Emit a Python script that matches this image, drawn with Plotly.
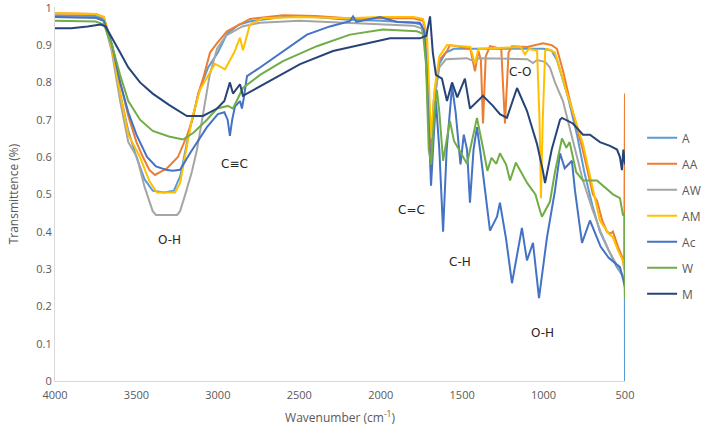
import plotly.graph_objects as go

# ---- data (wavenumber cm-1, transmittance) ----
A_x = [4000, 3750, 3700, 3650, 3600, 3550, 3500, 3450, 3400, 3330, 3270, 3230, 3180, 3120, 3060, 3000, 2944, 2870, 2800, 2600, 2400, 2200, 2000, 1800, 1750, 1720, 1700, 1690, 1670, 1640, 1600, 1550, 1000, 950, 918, 850, 795, 750, 700, 654, 600, 550, 510, 501, 500]
A_y = [0.98, 0.978, 0.97, 0.89, 0.77, 0.67, 0.60, 0.54, 0.51, 0.505, 0.51, 0.55, 0.66, 0.77, 0.84, 0.88, 0.93, 0.955, 0.964, 0.975, 0.975, 0.968, 0.965, 0.96, 0.955, 0.90, 0.65, 0.60, 0.75, 0.85, 0.88, 0.89, 0.89, 0.885, 0.86, 0.76, 0.66, 0.56, 0.47, 0.40, 0.35, 0.305, 0.28, 0.26, 0.0]

AA_x = [4000, 3750, 3700, 3650, 3600, 3550, 3500, 3460, 3420, 3386, 3312, 3245, 3190, 3153, 3120, 3091, 3048, 3005, 2944, 2803, 2600, 2400, 2200, 2000, 1800, 1740, 1720, 1705, 1691, 1675, 1640, 1593, 1575, 1450, 1421, 1400, 1385, 1372, 1355, 1329, 1260, 1237, 1215, 1194, 1100, 1004, 950, 918, 880, 838, 758, 697, 672, 640, 611, 590, 574, 543, 515, 505, 500]
AA_y = [0.985, 0.983, 0.975, 0.90, 0.80, 0.71, 0.64, 0.60, 0.565, 0.552, 0.57, 0.60, 0.657, 0.705, 0.77, 0.81, 0.88, 0.905, 0.937, 0.97, 0.98, 0.978, 0.972, 0.972, 0.972, 0.965, 0.93, 0.75, 0.58, 0.75, 0.86, 0.884, 0.90, 0.89, 0.83, 0.885, 0.86, 0.69, 0.87, 0.897, 0.89, 0.69, 0.88, 0.897, 0.895, 0.905, 0.90, 0.89, 0.83, 0.75, 0.617, 0.50, 0.483, 0.43, 0.40, 0.395, 0.40, 0.36, 0.33, 0.30, 0.77]

AW_x = [4000, 3750, 3700, 3650, 3600, 3550, 3497, 3450, 3400, 3380, 3250, 3232, 3200, 3160, 3128, 3090, 3050, 3005, 2950, 2850, 2741, 2500, 2200, 2000, 1800, 1750, 1725, 1705, 1690, 1670, 1640, 1600, 1470, 1421, 1400, 1100, 1065, 1040, 990, 961, 930, 881, 820, 760, 700, 650, 600, 550, 510, 500]
AW_y = [0.975, 0.973, 0.965, 0.88, 0.75, 0.64, 0.60, 0.52, 0.455, 0.445, 0.445, 0.455, 0.50, 0.56, 0.62, 0.72, 0.82, 0.89, 0.925, 0.95, 0.96, 0.965, 0.96, 0.955, 0.952, 0.945, 0.90, 0.72, 0.65, 0.76, 0.84, 0.862, 0.865, 0.855, 0.865, 0.862, 0.852, 0.86, 0.855, 0.84, 0.80, 0.75, 0.64, 0.54, 0.46, 0.40, 0.35, 0.31, 0.28, 0.27]

AM_x = [4000, 3750, 3700, 3650, 3600, 3550, 3478, 3420, 3374, 3263, 3232, 3200, 3160, 3110, 3060, 3018, 2956, 2900, 2864, 2846, 2803, 2723, 2500, 2200, 2000, 1800, 1740, 1716, 1700, 1688, 1670, 1640, 1593, 1450, 1421, 1400, 1140, 1114, 1090, 1040, 1025, 1016, 1005, 990, 979, 930, 856, 758, 700, 654, 600, 574, 543, 510, 503, 500]
AM_y = [0.985, 0.983, 0.975, 0.89, 0.77, 0.66, 0.60, 0.535, 0.505, 0.505, 0.53, 0.61, 0.70, 0.78, 0.82, 0.85, 0.835, 0.88, 0.92, 0.886, 0.955, 0.972, 0.975, 0.972, 0.975, 0.975, 0.97, 0.93, 0.75, 0.65, 0.78, 0.87, 0.90, 0.895, 0.85, 0.89, 0.895, 0.875, 0.89, 0.885, 0.70, 0.49, 0.70, 0.885, 0.89, 0.88, 0.77, 0.635, 0.52, 0.43, 0.395, 0.385, 0.35, 0.32, 0.30, 0.22]

Ac_x = [4000, 3750, 3700, 3650, 3600, 3550, 3500, 3435, 3380, 3312, 3275, 3232, 3171, 3120, 3067, 3000, 2960, 2940, 2926, 2912, 2895, 2864, 2852, 2840, 2821, 2741, 2600, 2453, 2312, 2189, 2170, 2150, 2004, 1900, 1760, 1735, 1720, 1705, 1691, 1675, 1661, 1640, 1617, 1595, 1562, 1540, 1510, 1490, 1470, 1452, 1430, 1409, 1390, 1329, 1300, 1286, 1268, 1230, 1194, 1133, 1102, 1065, 1028, 979, 930, 899, 870, 826, 807, 764, 715, 650, 600, 531, 510, 500]
Ac_y = [0.975, 0.973, 0.965, 0.90, 0.80, 0.72, 0.66, 0.60, 0.575, 0.565, 0.563, 0.566, 0.61, 0.645, 0.68, 0.715, 0.72, 0.70, 0.657, 0.70, 0.735, 0.75, 0.73, 0.76, 0.817, 0.84, 0.884, 0.928, 0.95, 0.964, 0.977, 0.962, 0.975, 0.962, 0.96, 0.94, 0.85, 0.65, 0.523, 0.65, 0.75, 0.62, 0.40, 0.62, 0.79, 0.72, 0.58, 0.66, 0.62, 0.478, 0.62, 0.68, 0.62, 0.403, 0.43, 0.44, 0.478, 0.38, 0.262, 0.41, 0.323, 0.37, 0.222, 0.385, 0.51, 0.61, 0.57, 0.59, 0.51, 0.37, 0.43, 0.36, 0.33, 0.305, 0.27, 0.25]

W_x = [4000, 3750, 3700, 3650, 3600, 3550, 3478, 3400, 3300, 3214, 3150, 3067, 3005, 2938, 2907, 2846, 2741, 2600, 2392, 2189, 1986, 1777, 1740, 1722, 1705, 1690, 1670, 1655, 1640, 1617, 1575, 1550, 1470, 1409, 1372, 1345, 1320, 1290, 1268, 1230, 1206, 1170, 1100, 1050, 1022, 1010, 961, 930, 887, 860, 840, 800, 758, 672, 574, 531, 512, 503, 500]
W_y = [0.965, 0.963, 0.955, 0.90, 0.82, 0.75, 0.70, 0.67, 0.655, 0.647, 0.665, 0.70, 0.73, 0.737, 0.73, 0.785, 0.82, 0.857, 0.897, 0.928, 0.942, 0.937, 0.93, 0.85, 0.62, 0.58, 0.72, 0.78, 0.72, 0.59, 0.697, 0.643, 0.582, 0.705, 0.625, 0.563, 0.598, 0.582, 0.61, 0.58, 0.537, 0.585, 0.53, 0.50, 0.457, 0.44, 0.48, 0.56, 0.65, 0.625, 0.64, 0.56, 0.537, 0.537, 0.50, 0.49, 0.443, 0.45, 0.22]

M_x = [4000, 3900, 3800, 3720, 3690, 3650, 3600, 3550, 3478, 3400, 3300, 3190, 3091, 3005, 2960, 2926, 2907, 2864, 2846, 2780, 2698, 2495, 2293, 2084, 1943, 1759, 1720, 1697, 1680, 1661, 1624, 1593, 1562, 1530, 1483, 1452, 1372, 1311, 1268, 1225, 1163, 1102, 1041, 1004, 991, 950, 899, 887, 820, 758, 715, 654, 592, 549, 531, 519, 510, 500]
M_y = [0.945, 0.945, 0.95, 0.955, 0.95, 0.92, 0.88, 0.84, 0.80, 0.77, 0.74, 0.71, 0.71, 0.73, 0.75, 0.80, 0.77, 0.795, 0.764, 0.78, 0.80, 0.849, 0.884, 0.905, 0.918, 0.918, 0.925, 0.977, 0.88, 0.82, 0.81, 0.75, 0.80, 0.76, 0.81, 0.73, 0.764, 0.737, 0.715, 0.705, 0.785, 0.724, 0.636, 0.563, 0.53, 0.62, 0.70, 0.705, 0.69, 0.66, 0.66, 0.64, 0.63, 0.62, 0.60, 0.565, 0.62, 0.58]

series = [
    ("A", A_x, A_y, "#5B9BD5"),
    ("AA", AA_x, AA_y, "#ED7D31"),
    ("AW", AW_x, AW_y, "#A5A5A5"),
    ("AM", AM_x, AM_y, "#FFC000"),
    ("Ac", Ac_x, Ac_y, "#4472C4"),
    ("W", W_x, W_y, "#70AD47"),
    ("M", M_x, M_y, "#264478"),
]

labels = [("O-H", 3294, 0.379), ("C\u2261C", 2895, 0.582), ("C=C", 1808, 0.457),
          ("C-H", 1513, 0.318), ("O-H", 1004, 0.128), ("C-O", 1139, 0.828)]

x_ticks = [4000, 3500, 3000, 2500, 2000, 1500, 1000, 500]
y_ticks = [0, 0.1, 0.2, 0.3, 0.4, 0.5, 0.6, 0.7, 0.8, 0.9, 1]
y_tick_text = ["0", "0.1", "0.2", "0.3", "0.4", "0.5", "0.6", "0.7", "0.8", "0.9", "1"]

fig = go.Figure()
for name, xs, ys, col in series:
    fig.add_trace(go.Scatter(x=xs, y=ys, name=name, mode="lines", legendgroup=name,
                             line=dict(color=col, width=2)))

for txt, xv, yv in labels:
    fig.add_annotation(x=xv, y=yv, text=txt, showarrow=False,
                       font=dict(size=12, color="#262626", family="DejaVu Sans"))

fig.update_layout(
    width=710, height=433,
    margin=dict(l=55, r=85, t=7, b=52, autoexpand=False),
    paper_bgcolor="white", plot_bgcolor="white",
    font=dict(family="Open Sans", size=11, color="#595959"),
    showlegend=True,
    legend=dict(x=1.03, y=0.689, xanchor="left", yanchor="top",
                tracegroupgap=7, font=dict(size=12, color="#595959"),
                bgcolor="rgba(0,0,0,0)"),
    xaxis=dict(range=[4000, 500], tickvals=x_ticks, ticktext=[str(v) for v in x_ticks],
               ticklabelstandoff=4,
               showgrid=False, zeroline=False, showline=True, linecolor="#D9D9D9", linewidth=1,
               ticks="", title=dict(text="Wavenumber (cm<sup>-1</sup>)", standoff=12,
                                    font=dict(size=12, color="#595959"))),
    yaxis=dict(range=[0, 1.002], tickvals=y_ticks, ticktext=y_tick_text,
               ticklabeloverflow="allow",
               showgrid=False, zeroline=False, showline=True, linecolor="#D9D9D9", linewidth=1,
               ticks="", title=dict(text="Transmittence (%)", standoff=15,
                                    font=dict(size=12, color="#595959"))),
)

fig.write_html("out.html", config={"displayModeBar": False},
               post_script="document.body.style.margin='0px';")
